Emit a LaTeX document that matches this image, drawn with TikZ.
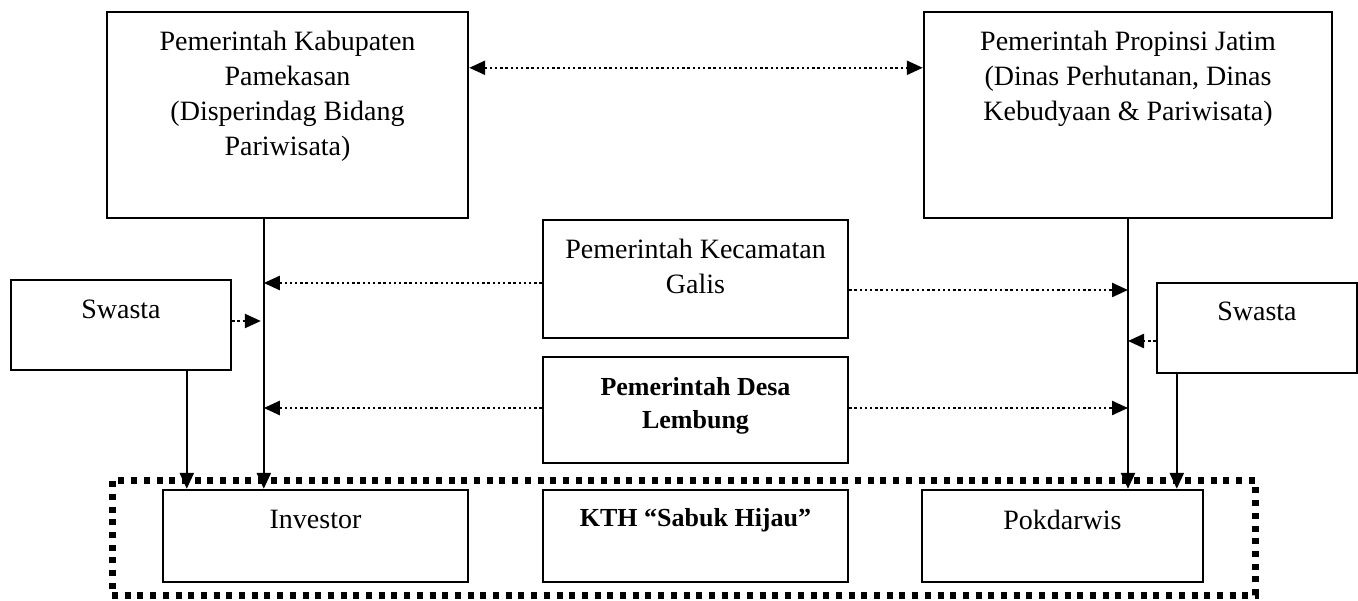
\documentclass[tikz,border=0pt]{standalone}
\usepackage{fontspec}
\setmainfont{Liberation Serif}
\usetikzlibrary{arrows.meta, positioning, calc}

\begin{document}
\begin{tikzpicture}[x=1pt, y=-1pt, >={Triangle[length=16pt,width=14pt]}, line width=2.6pt,
    box/.style={draw, rectangle, line width=2.4pt, inner sep=0pt},
    txt/.style={inner sep=0pt, align=center, font=\fontsize{28}{35}\selectfont},
    boldtxt/.style={inner sep=0pt, align=center, font=\fontsize{26}{33}\selectfont\bfseries},
    link/.style={->},
    dotlink/.style={->, line width=2.4pt, dash pattern=on 2.4pt off 2.8pt},
    groupframe/.style={draw, line width=7pt, dash pattern=on 6pt off 6.7pt, inner sep=0pt}]
                \useasboundingbox (0,0) rectangle (1358,601);

                % group of local actors
                \node[groupframe, minimum width=1143pt, minimum height=114pt] (grp) at (683.5,538) {};

                % government boxes
                \node[box, minimum width=361pt, minimum height=206pt] (kab) at (287.5,115) {};
                \node[txt, below=19pt of kab.north] (kabtxt) {Pemerintah Kabupaten\\Pamekasan\\(Disperindag Bidang\\Pariwisata)};
                
                \node[box, minimum width=408pt, minimum height=206pt] (prop) at (1128,115) {};
                \node[txt, below=19pt of prop.north] (proptxt) {Pemerintah Propinsi Jatim\\(Dinas Perhutanan, Dinas\\Kebudyaan \& Pariwisata)};
                
                \node[box, minimum width=305pt, minimum height=118pt] (kec) at (695.5,279) {};
                \node[txt, below=19pt of kec.north] (kectxt) {Pemerintah Kecamatan\\Galis};
                
                \node[box, minimum width=305pt, minimum height=106pt] (desa) at (695.5,410) {};
                \node[boldtxt, below=20.5pt of desa.north] (desatxt) {Pemerintah Desa\\Lembung};

                % private sector
                \node[box, minimum width=220pt, minimum height=90pt] (swL) at (121,325) {};
                \node[txt, below=19.5pt of swL.north] (swLtxt) {Swasta};
                
                \node[box, minimum width=200pt, minimum height=90pt] (swR) at (1257,328) {};
                \node[txt, below=18.5pt of swR.north] (swRtxt) {Swasta};

                % bottom row
                \node[box, minimum width=305pt, minimum height=92pt] (inv) at (315.5,536) {};
                \node[txt, below=20.5pt of inv.north] (invtxt) {Investor};
                
                \node[box, minimum width=305pt, minimum height=92pt] (kth) at (695.5,536) {};
                \node[boldtxt, below=18pt of kth.north] (kthtxt) {KTH “Sabuk Hijau”};
                
                \node[box, minimum width=281pt, minimum height=92pt] (pok) at (1062.5,536) {};
                \node[txt, below=20pt of pok.north] (poktxt) {Pokdarwis};

                % solid lines down
                \draw[link] ($(kab.south west)+(158,0)$) coordinate (kabx) -- (kabx |- inv.north);
                \draw[link] ($(swL.south west)+(177,0)$) coordinate (swlx) -- (swlx |- inv.north);
                \draw[link] (prop.south) -- (prop.south |- pok.north);
                \draw[link] ($(swR.south west)+(21,0)$) coordinate (swrx) -- (swrx |- pok.north);

                % dotted coordination
                \draw[dotlink, <->] ($(kab.north east)+(0,57)$) coordinate (topl) -- (topl -| prop.west);
                \draw[dotlink] ($(kec.west)+(0,4)$) coordinate (kecl) -- (kecl -| kabx);
                \draw[dotlink] ($(kec.east)+(0,11)$) coordinate (kecr) -- (kecr -| prop.south);
                \draw[dotlink] ($(desa.west)+(0,-2)$) coordinate (desal) -- (desal -| kabx);
                \draw[dotlink] ($(desa.east)+(0,-2)$) coordinate (desar) -- (desar -| prop.south);
                \draw[dotlink, shorten >=3pt] ($(swL.east)+(0,-4)$) coordinate (swle) -- (swle -| kabx);
                \draw[dotlink] ($(swR.west)+(0,13)$) coordinate (swrw) -- (swrw -| prop.south);
            \end{tikzpicture}
\end{document}
